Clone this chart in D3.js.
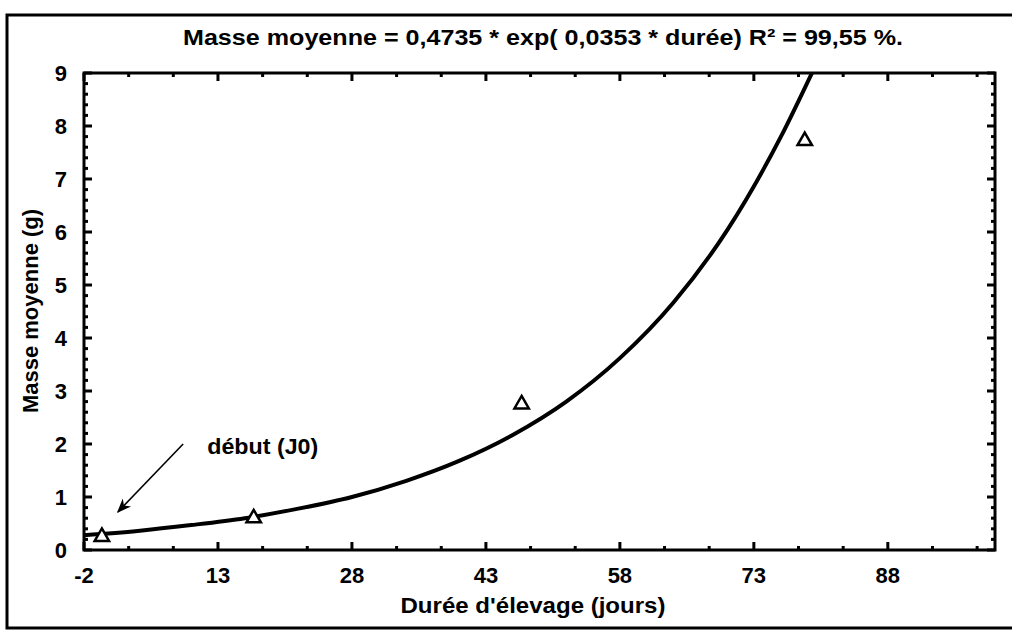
<!DOCTYPE html>
<html>
<head>
<meta charset="utf-8">
<script src="https://cdn.jsdelivr.net/npm/d3@7"></script>
<style>
  body { margin: 0; background: #fff; }
  text { font-family: "Liberation Sans", Arial, sans-serif; font-weight: bold; fill: #000; }
</style>
</head>
<body>
<svg id="chart" width="1012" height="634"></svg>
<script>
// observed points (day, mean mass g)
const days = [0, 17, 47, 78.7];
const masses = [0.25, 0.6, 2.75, 7.72];

// fitted curve
const curveDays = [-2, 4, 10, 16, 22, 28, 34, 40, 46, 52, 58, 64, 70, 76, 79.5];
const curveMass = [0.28, 0.36, 0.47, 0.6, 0.78, 1.0, 1.3, 1.68, 2.17, 2.8, 3.62, 4.67, 6.03, 7.79, 9.0];

const xTicks = [-2, 13, 28, 43, 58, 73, 88];
const yTicks = [0, 1, 2, 3, 4, 5, 6, 7, 8, 9];

const title = "Masse moyenne = 0,4735 * exp( 0,0353 * durée) R² = 99,55 %.";
const xTitle = "Durée d'élevage (jours)";
const yTitle = "Masse moyenne (g)";
const note = "début (J0)";
// arrow from / to, in data units
const arrowFrom = [9.1, 2.0];
const arrowTo = [1.8, 0.72];
const noteAt = [11.8, 1.81];

const svg = d3.select('#chart');
const plotL = 84, plotR = 995, plotT = 73, plotB = 550;

const x = d3.scaleLinear().domain([-2, 100]).range([plotL, plotR]);
const y = d3.scaleLinear().domain([0, 9]).range([plotB, plotT]);

// outer frame
svg.append('rect')
  .attr('x', 7).attr('y', 15)
  .attr('width', 1010).attr('height', 613)
  .attr('fill', 'none').attr('stroke', '#000').attr('stroke-width', 3);

svg.append('text')
  .attr('x', 543).attr('y', 45)
  .attr('text-anchor', 'middle')
  .attr('textLength', 720)
  .attr('lengthAdjust', 'spacingAndGlyphs')
  .style('font-size', '22px')
  .text(title);

// minor ticks every 5 days and 0.2 g
const xMinor = d3.range(-2, 100, 5);
const yMinor = d3.range(0, 9.01, 0.2);

let ticks = svg.append('g').attr('stroke', '#000').attr('stroke-width', 3);
xMinor.forEach(function (d) {
  let len = xTicks.includes(d) ? 8 : 4;
  ticks.append('line').attr('x1', x(d)).attr('x2', x(d)).attr('y1', plotB).attr('y2', plotB - len);
  ticks.append('line').attr('x1', x(d)).attr('x2', x(d)).attr('y1', plotT).attr('y2', plotT + len);
});
yMinor.forEach(function (d) {
  let len = Math.abs(d - Math.round(d)) < 0.01 ? 8 : 4;
  ticks.append('line').attr('y1', y(d)).attr('y2', y(d)).attr('x1', plotL).attr('x2', plotL + len);
  ticks.append('line').attr('y1', y(d)).attr('y2', y(d)).attr('x1', plotR).attr('x2', plotR - len);
});

// plot box
svg.append('rect')
  .attr('x', plotL).attr('y', plotT)
  .attr('width', plotR - plotL).attr('height', plotB - plotT)
  .attr('fill', 'none').attr('stroke', '#000').attr('stroke-width', 3);

// tick labels
svg.append('g').selectAll('text')
  .data(xTicks)
  .enter().append('text')
  .attr('x', d => x(d))
  .attr('y', 583)
  .attr('text-anchor', 'middle')
  .style('font-size', '22px')
  .text(d => d);

svg.append('g').selectAll('text')
  .data(yTicks)
  .enter().append('text')
  .attr('x', 67)
  .attr('y', d => y(d) + 8)
  .attr('text-anchor', 'end')
  .style('font-size', '22px')
  .text(d => d);

svg.append('text')
  .attr('x', 533).attr('y', 613)
  .attr('text-anchor', 'middle')
  .attr('textLength', 265)
  .attr('lengthAdjust', 'spacingAndGlyphs')
  .style('font-size', '22px')
  .text(xTitle);

svg.append('text')
  .attr('transform', 'translate(38,311) rotate(-90)')
  .attr('text-anchor', 'middle')
  .style('font-size', '22px')
  .text(yTitle);

// fitted curve
let line = d3.line()
  .x(d => x(d[0]))
  .y(d => y(d[1]))
  .curve(d3.curveMonotoneX);

svg.append('path')
  .datum(curveDays.map((d, i) => [d, curveMass[i]]))
  .attr('d', line)
  .attr('fill', 'none')
  .attr('stroke', '#000')
  .attr('stroke-width', 4);

// observed points
let tri = d3.symbol().type(d3.symbolTriangle).size(90);
svg.append('g').selectAll('path')
  .data(days)
  .enter().append('path')
  .attr('d', tri)
  .attr('transform', (d, i) => 'translate(' + x(d) + ',' + y(masses[i]) + ')')
  .attr('fill', '#fff')
  .attr('stroke', '#000')
  .attr('stroke-width', 2.5);

// annotation
svg.append('defs').append('marker')
  .attr('id', 'head')
  .attr('viewBox', '0 0 10 10')
  .attr('refX', 9).attr('refY', 5)
  .attr('markerWidth', 9).attr('markerHeight', 9)
  .attr('orient', 'auto')
  .append('path')
  .attr('d', 'M0,1 L10,5 L0,9 L3,5 Z')
  .attr('fill', '#000');

svg.append('line')
  .attr('x1', x(arrowFrom[0])).attr('y1', y(arrowFrom[1]))
  .attr('x2', x(arrowTo[0])).attr('y2', y(arrowTo[1]))
  .attr('stroke', '#000')
  .attr('stroke-width', 1.6)
  .attr('marker-end', 'url(#head)');

svg.append('text')
  .attr('x', x(noteAt[0])).attr('y', y(noteAt[1]))
  .attr('textLength', 111)
  .attr('lengthAdjust', 'spacingAndGlyphs')
  .style('font-size', '22px')
  .text(note);
</script>
</body>
</html>
